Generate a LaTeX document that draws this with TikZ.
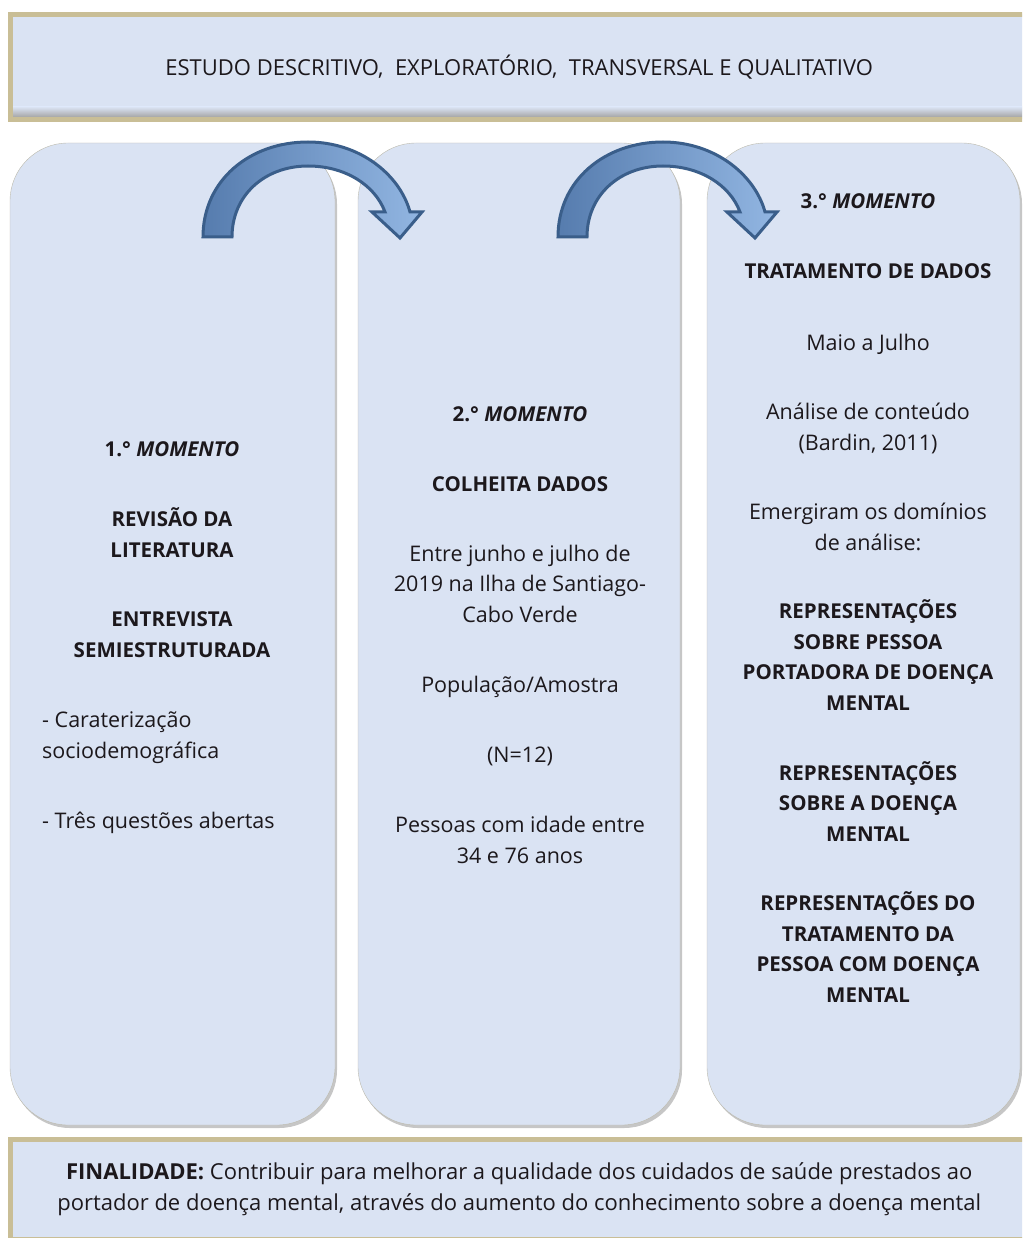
\documentclass[tikz,border=0pt]{standalone}
\usepackage{fontspec}
\setmainfont{Open Sans}
\usetikzlibrary{shadows,calc}
\definecolor{panel}{RGB}{218,227,243}
\definecolor{trim}{RGB}{201,190,150}
\definecolor{rim}{RGB}{188,186,172}
\definecolor{ink}{RGB}{28,24,28}
\definecolor{arrowline}{RGB}{58,94,138}
\definecolor{arrowdark}{RGB}{86,124,174}
\definecolor{arrowlight}{RGB}{146,182,226}
\newcommand{\bodyfont}{\fontsize{20.5}{30.5}\selectfont}
\newcommand{\plainfont}{\fontsize{21.5}{30.5}\selectfont}
\newcommand{\bannerfont}{\fontsize{22}{31}\selectfont}

\tikzset{
    pics/bendarrow/.style={code={
        \draw[arrowpaint] (0,0) .. controls (0,-57) and (47,-95) .. (105,-95)
            .. controls (157,-95) and (197,-62) .. (207,-25)
            -- (219,-25) -- (197,1) -- (169,-25) -- (182,-25)
            .. controls (172,-52) and (142,-71) .. (105,-71)
            .. controls (62,-71) and (29,-42) .. (29,0) -- cycle;
    }}
}

\begin{document}
\begin{tikzpicture}[
    x=1pt, y=-1pt,
    banner/.style={rectangle, draw=trim, fill=panel, line width=5pt, minimum width=1017.5pt, text=ink, align=center, font=\bannerfont},
    column/.style={rectangle, rounded corners=58pt, draw=rim, fill=panel, minimum height=982pt, drop shadow={shadow xshift=2pt, shadow yshift=-3pt, fill=black!50, opacity=.45}},
    txt/.style={text=ink, align=center, inner sep=0pt, font=\plainfont},
    bold/.style={txt, font=\bodyfont\bfseries},
    arrowpaint/.style={draw=arrowline, line width=3pt, left color=arrowdark, right color=arrowlight}
]
    \useasboundingbox (0,0) rectangle (1022,1238);
    \clip (0,0) rectangle (1022,1238);

    % Banners
    \node[banner, minimum height=105pt] (design) at (519.25,67) {ESTUDO DESCRITIVO, \ EXPLORATÓRIO, \ TRANSVERSAL E QUALITATIVO};
    \shade[top color=panel, bottom color=black!35] ($(design.south west)+(5,-15)$) rectangle ($(design.south east)+(-5,-5)$);
    \node[banner, minimum height=100pt, anchor=north] (goal) at (519.25,1137) {\textbf{FINALIDADE:} Contribuir para melhorar a qualidade dos cuidados de saúde prestados ao\\portador de doença mental, através do aumento do conhecimento sobre a doença mental};

    % Columns
    \node[column, minimum width=325pt] (col1) at (172.5,634) {};
    \node[column, minimum width=322pt] (col2) at (519,634) {};
    \node[column, minimum width=313pt] (col3) at (863.5,634) {};

    % Arrows between the moments
    \pic at (203,237) {bendarrow};
    \pic at (558,237) {bendarrow};

    % 1st moment (base = last line)
    \node[bold, anchor=base] (m1) at (172,456) {1.° \textit{MOMENTO}};
    \node[bold, anchor=base] (rev) at (172,557) {REVISÃO DA\\LITERATURA};
    \node[bold, anchor=base] (entr) at (172,657) {ENTREVISTA\\SEMIESTRUTURADA};
    \node[txt, align=left, anchor=base west] (carat) at (42,758) {- Caraterização\\sociodemográfica};
    \node[txt, anchor=base west] (quest) at (42,828) {- Três questões abertas};

    % 2nd moment
    \node[bold, anchor=base] (m2) at (520,421) {2.° \textit{MOMENTO}};
    \node[bold, anchor=base] (colh) at (520,491) {COLHEITA DADOS};
    \node[txt, anchor=base] (dates) at (520,622) {Entre junho e julho de\\2019 na Ilha de Santiago-\\Cabo Verde};
    \node[txt, anchor=base] (pop) at (520,692) {População/Amostra};
    \node[txt, anchor=base] (size) at (520,762) {(N=12)};
    \node[txt, anchor=base] (ages) at (520,863) {Pessoas com idade entre\\34 e 76 anos};

    % 3rd moment
    \node[bold, anchor=base] (m3) at (868,209) {3.° \textit{MOMENTO}};
    \node[bold, anchor=base] (trat) at (868,279) {TRATAMENTO DE DADOS};
    \node[txt, anchor=base] (maio) at (868,350) {Maio a Julho};
    \node[txt, anchor=base] (anal) at (868,450) {Análise de conteúdo\\(Bardin, 2011)};
    \node[txt, anchor=base] (emerg) at (868,550) {Emergiram os domínios\\de análise:};
    \node[bold, anchor=base] (rep1) at (868,710) {REPRESENTAÇÕES\\SOBRE PESSOA\\PORTADORA DE DOENÇA\\MENTAL};
    \node[bold, anchor=base] (rep2) at (868,841) {REPRESENTAÇÕES\\SOBRE A DOENÇA\\MENTAL};
    \node[bold, anchor=base] (rep3) at (868,1002) {REPRESENTAÇÕES DO\\TRATAMENTO DA\\PESSOA COM DOENÇA\\MENTAL};
\end{tikzpicture}
\end{document}
